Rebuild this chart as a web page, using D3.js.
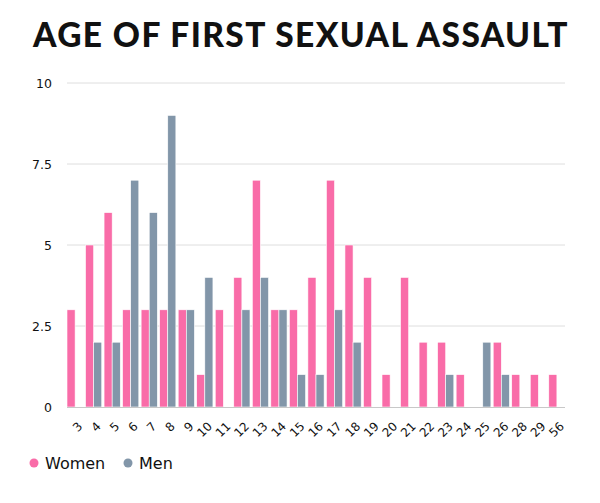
<!DOCTYPE html>
<html>
<head>
<meta charset="utf-8">
<script src="https://cdn.jsdelivr.net/npm/d3@7"></script>
<style>
html,body{margin:0;padding:0;background:#fff;}
svg{display:block;}
</style>
</head>
<body>
<svg id="chart" width="600" height="503"></svg>
<script>
const ages = ["3","4","5","6","7","8","9","10","11","12","13","14","15","16","17","18","19","20","21","22","23","24","25","26","28","29","56"];
const women = [3,5,6,3,3,3,3,1,3,4,7,3,3,4,7,5,4,1,4,2,2,1,0,2,1,1,1];
const men   = [0,2,2,7,6,9,3,4,0,3,4,3,1,1,3,2,0,0,0,0,1,0,2,1,0,0,0];
const seriesNames = ["Women","Men"];
const yTicks = [0,2.5,5,7.5,10];
const colors = ["#F96CA8","#8296A9"];

const svg = d3.select("#chart");
const pLeft = 67, pRight = 565, pTop = 83, pBottom = 407;
const labelFont = "DejaVu Sans, sans-serif";

const x = d3.scaleBand().domain(ages).range([pLeft, pRight]).paddingInner(0.125).paddingOuter(0);
const xs = d3.scaleBand().domain(seriesNames).range([0, x.bandwidth()]);
const y = d3.scaleLinear().domain([0, 10]).range([pBottom, pTop]);

svg.append("text")
  .attr("x", 301).attr("y", 47)
  .attr("text-anchor", "middle")
  .attr("font-family", "Lato")
  .attr("font-weight", 900)
  .attr("font-size", 33.5)
  .attr("letter-spacing", 1.4)
  .attr("fill", "#111")
  .text("AGE OF FIRST SEXUAL ASSAULT");

// gridlines
svg.append("g").selectAll("line").data(yTicks.filter(d => d > 0)).join("line")
  .attr("x1", pLeft).attr("x2", pRight)
  .attr("y1", d => y(d)).attr("y2", d => y(d))
  .attr("stroke", "#dedede").attr("stroke-width", 1);

// y labels
svg.append("g").selectAll("text").data(yTicks).join("text")
  .attr("x", 52).attr("y", d => y(d) + 4.5)
  .attr("text-anchor", "end")
  .attr("font-family", labelFont)
  .attr("font-size", 12.5)
  .attr("fill", "#111")
  .text(d => d);

const rows = ages.map((a, i) => ({age: a, vals: [women[i], men[i]]}));

const groups = svg.append("g").selectAll("g").data(rows).join("g")
  .attr("transform", d => `translate(${x(d.age)},0)`);
groups.selectAll("rect").data(d => d.vals.map((v, k) => ({v, k}))).join("rect")
  .attr("x", d => xs(seriesNames[d.k]))
  .attr("width", xs.bandwidth())
  .attr("y", d => y(d.v))
  .attr("height", d => pBottom - y(d.v))
  .attr("fill", d => colors[d.k])
  .attr("stroke", "#fff").attr("stroke-width", 0.6);

// baseline
svg.append("line").attr("x1", pLeft).attr("x2", pRight)
  .attr("y1", pBottom + 0.5).attr("y2", pBottom + 0.5)
  .attr("stroke", "#c8c8c8").attr("stroke-width", 1);

// x labels
svg.append("g").selectAll("text").data(ages).join("text")
  .attr("transform", d => `translate(${x(d) + x.bandwidth()/2 + 8},${pBottom + 20}) rotate(-45)`)
  .attr("text-anchor", "end")
  .attr("font-family", labelFont)
  .attr("font-size", 12)
  .attr("fill", "#111")
  .text(d => d);

// legend
const legendX = [34, 128];
const leg = svg.append("g").selectAll("g").data(seriesNames).join("g")
  .attr("transform", (d, i) => `translate(${legendX[i]},463)`);
leg.append("circle").attr("r", 4.5).attr("fill", (d, i) => colors[i]);
leg.append("text").attr("x", 11).attr("y", 5.5)
  .attr("font-family", labelFont)
  .attr("font-size", 16)
  .attr("fill", "#111")
  .text(d => d);
</script>
</body>
</html>
